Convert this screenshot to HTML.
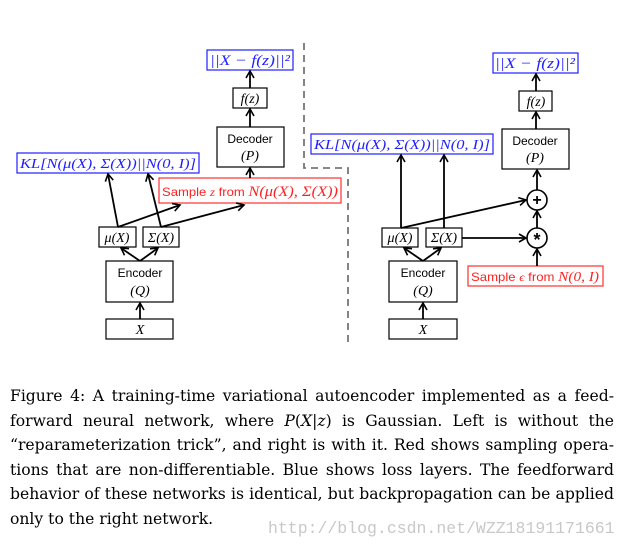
<!DOCTYPE html>
<html><head><meta charset="utf-8"><style>
body{margin:0;background:#fff;width:628px;height:550px;overflow:hidden;position:relative}
svg{position:absolute;left:0;top:0}
.cap{position:absolute;left:10px;top:384px;width:604px;font-family:"DejaVu Serif","Liberation Serif",serif;font-size:15.6px;line-height:24.6px;color:#000}
.cap div{text-align:justify;text-align-last:justify;white-space:nowrap}
.cap div.l{text-align-last:left}
.wm{position:absolute;left:268px;top:519px;font-family:"Liberation Mono",monospace;font-size:16.5px;color:#c8c8c8}
</style></head><body>
<svg width="628" height="380" viewBox="0 0 628 380">
<defs><marker id="a" markerWidth="10" markerHeight="10" refX="8" refY="5" orient="auto" markerUnits="userSpaceOnUse"><path d="M1,1 L8,5 L1,9" fill="none" stroke="#000" stroke-width="1.6"/></marker></defs>
<g fill="none" stroke="#777" stroke-width="1.8" stroke-dasharray="7,5">
<path d="M304,43 V168 H348 V342"/>
</g>
<g fill="#fff" stroke="#000" stroke-width="1.2">
<rect x="233" y="88" width="34" height="20"/>
<rect x="217" y="127" width="67" height="40"/>
<rect x="99" y="227" width="37" height="20"/>
<rect x="143" y="227" width="36" height="20"/>
<rect x="106" y="261" width="67" height="41"/>
<rect x="106" y="319" width="67" height="20"/>
<rect x="519" y="91" width="33" height="20"/>
<rect x="502" y="129" width="67" height="40"/>
<rect x="382" y="228" width="36" height="19"/>
<rect x="426" y="228" width="36" height="19"/>
<rect x="389" y="261" width="68" height="41"/>
<rect x="389" y="319" width="68" height="20"/>
<circle cx="537" cy="200" r="10" stroke-width="1.6"/>
<circle cx="537" cy="238" r="10" stroke-width="1.6"/>
</g>
<g fill="#fff" stroke="#2020ff" stroke-width="1.2">
<rect x="207" y="50" width="86" height="20"/>
<rect x="17" y="153" width="182" height="20"/>
<rect x="493" y="53" width="85" height="20"/>
<rect x="311" y="134" width="182" height="20"/>
</g>
<g fill="#fff" stroke="#ff3030" stroke-width="1.2">
<rect x="159" y="178" width="182" height="25"/>
<rect x="468" y="266" width="135" height="20"/>
</g>
<g stroke="#000" stroke-width="1.8" marker-end="url(#a)">
<line x1="250" y1="88" x2="250" y2="71"/>
<line x1="250" y1="127" x2="250" y2="109"/>
<line x1="250" y1="178" x2="250" y2="168"/>
<line x1="118" y1="227" x2="108" y2="174"/>
<line x1="161" y1="227" x2="148" y2="174"/>
<line x1="118" y1="227" x2="180" y2="205"/>
<line x1="161" y1="227" x2="244" y2="205"/>
<line x1="140" y1="261" x2="121" y2="248"/>
<line x1="140" y1="261" x2="158" y2="248"/>
<line x1="140" y1="319" x2="140" y2="303"/>
<line x1="536" y1="91" x2="536" y2="74"/>
<line x1="536" y1="129" x2="536" y2="112"/>
<line x1="537" y1="190" x2="537" y2="170"/>
<line x1="537" y1="228" x2="537" y2="211"/>
<line x1="537" y1="266" x2="537" y2="249"/>
<line x1="401" y1="228" x2="401" y2="155"/>
<line x1="444" y1="228" x2="444" y2="155"/>
<line x1="401" y1="228" x2="526" y2="200"/>
<line x1="462" y1="238" x2="526" y2="238"/>
<line x1="423" y1="261" x2="404" y2="248"/>
<line x1="423" y1="261" x2="441" y2="248"/>
<line x1="423" y1="319" x2="423" y2="303"/>
</g>
<g font-family="Liberation Serif,serif" font-style="italic" font-size="14" text-anchor="middle">
<text x="250" y="103">f(z)</text>
<text x="536" y="106">f(z)</text>
<text x="117" y="242">μ(X)</text>
<text x="161" y="242">Σ(X)</text>
<text x="400" y="242">μ(X)</text>
<text x="444" y="242">Σ(X)</text>
<text x="140" y="334">X</text>
<text x="423" y="334">X</text>
<text x="108" y="168" fill="#2020ff" font-size="13.5" textLength="176" lengthAdjust="spacingAndGlyphs">KL[N(μ(X), Σ(X))||N(0, I)]</text>
<text x="402" y="149" fill="#2020ff" font-size="13.5" textLength="176" lengthAdjust="spacingAndGlyphs">KL[N(μ(X), Σ(X))||N(0, I)]</text>
<text x="250" y="65" fill="#2020ff" font-size="15" textLength="80" lengthAdjust="spacingAndGlyphs">||X − f(z)||²</text>
<text x="535" y="68" fill="#2020ff" font-size="15" textLength="80" lengthAdjust="spacingAndGlyphs">||X − f(z)||²</text>
</g>
<g font-family="Liberation Sans,sans-serif" font-size="12" text-anchor="middle">
<text x="250" y="143">Decoder</text>
<text x="250" y="160" font-family="Liberation Serif,serif" font-style="italic" font-size="14">(P)</text>
<text x="535" y="145">Decoder</text>
<text x="535" y="162" font-family="Liberation Serif,serif" font-style="italic" font-size="14">(P)</text>
<text x="140" y="277">Encoder</text>
<text x="140" y="295" font-family="Liberation Serif,serif" font-style="italic" font-size="14">(Q)</text>
<text x="423" y="277">Encoder</text>
<text x="423" y="295" font-family="Liberation Serif,serif" font-style="italic" font-size="14">(Q)</text>
<text x="250" y="196" fill="#ff2020" textLength="176" lengthAdjust="spacingAndGlyphs">Sample <tspan font-family="Liberation Serif,serif" font-style="italic">z</tspan> from <tspan font-family="Liberation Serif,serif" font-style="italic" font-size="15">N(μ(X), Σ(X))</tspan></text>
<text x="535" y="281" fill="#ff2020" textLength="128" lengthAdjust="spacingAndGlyphs">Sample <tspan font-family="Liberation Serif,serif" font-style="italic">ϵ</tspan> from <tspan font-family="Liberation Serif,serif" font-style="italic" font-size="14">N(0, I)</tspan></text>
<text x="537" y="205" font-size="16" font-weight="bold">+</text>
<text x="537" y="246" font-size="18" font-weight="bold">*</text>
</g>
</svg>
<div class="cap">
<div>Figure 4: A training-time variational autoencoder implemented as a feed-</div>
<div>forward neural network, where <i>P</i>(<i>X</i>|<i>z</i>) is Gaussian. Left is without the</div>
<div>“reparameterization trick”, and right is with it. Red shows sampling opera-</div>
<div>tions that are non-differentiable. Blue shows loss layers. The feedforward</div>
<div>behavior of these networks is identical, but backpropagation can be applied</div>
<div class="l">only to the right network.</div>
</div>
<div class="wm">http://blog.csdn.net/WZZ18191171661</div>
</body></html>
